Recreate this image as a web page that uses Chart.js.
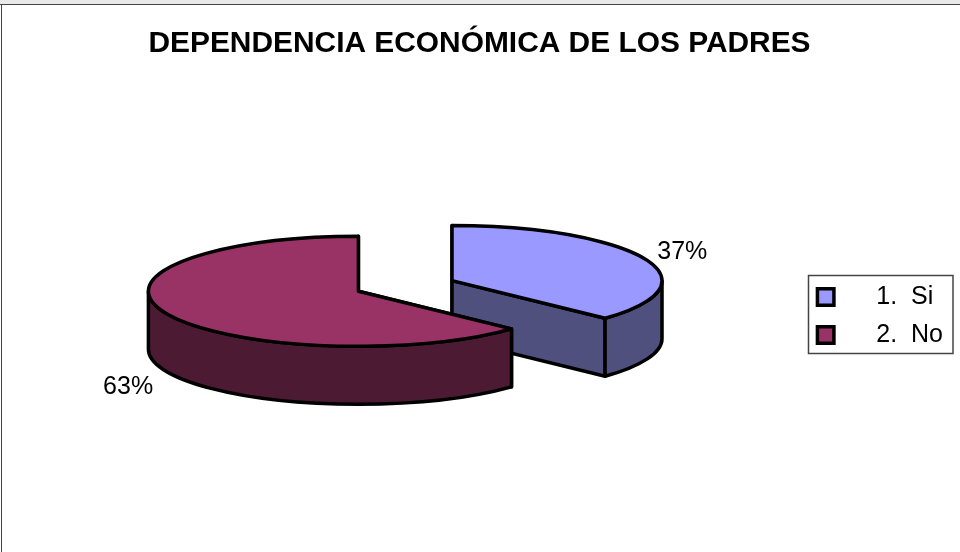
<!DOCTYPE html>
<html>
<head>
<meta charset="utf-8">
<title>Dependencia económica de los padres</title>
<script src="https://cdn.jsdelivr.net/npm/chart.js@4"></script>
<style>
    html, body { margin: 0; background: #fff; }
    canvas { display: block; }
</style>
</head>
<body>
<canvas id="pieChart" width="960" height="552"></canvas>
<script>
const chartTitle = 'DEPENDENCIA ECONÓMICA DE LOS PADRES';
const categories = ['1.  Si', '2.  No'];
const percentages = [37, 63];
const topColors = ['#9999ff', '#993366'];
const wallColors = ['#50507f', '#4d1a33'];

const fontFamily = '"Liberation Sans", Arial, sans-serif';
const tilt = 0.262;       // height of the ellipse against its width
const depth = 58;         // height of the pie wall
const explode = 51;       // how far each slice is pulled out
const outlineWidth = 3.5;
const labelNudge = [[-1, -2], [1, 12]];

// Pie drawn as a tilted, exploded disc with walls under each slice
class Pie3DController extends Chart.PieController {
    draw() {
        const ctx = this.chart.ctx;
        this._cachedMeta.data.forEach((arc, i) => {
            const mid = (arc.startAngle + arc.endAngle) / 2;
            const cx = arc.x + Math.cos(mid) * explode;
            const cy = arc.y + Math.sin(mid) * explode * tilt;
            const rx = arc.outerRadius;
            const ry = rx * tilt;

            ctx.save();
            ctx.lineWidth = outlineWidth;
            ctx.strokeStyle = '#000';
            ctx.lineJoin = 'round';
            ctx.fillStyle = wallColors[i];

            // cut faces first, the wall and top cover whatever is hidden
            [arc.startAngle, arc.endAngle].forEach(a => {
                const ex = cx + Math.cos(a) * rx;
                const ey = cy + Math.sin(a) * ry;
                ctx.beginPath();
                ctx.moveTo(cx, cy);
                ctx.lineTo(ex, ey);
                ctx.lineTo(ex, ey + depth);
                ctx.lineTo(cx, cy + depth);
                ctx.closePath();
                ctx.fill();
                ctx.stroke();
            });

            // outer wall, only the front half of the ellipse shows
            const from = Math.max(arc.startAngle, 0);
            const to = Math.min(arc.endAngle, Math.PI);
            if (to > from) {
                ctx.beginPath();
                ctx.ellipse(cx, cy, rx, ry, 0, from, to);
                ctx.ellipse(cx, cy + depth, rx, ry, 0, to, from, true);
                ctx.closePath();
                ctx.fill();
                ctx.stroke();
            }

            // top surface, squashed through the transform
            ctx.save();
            ctx.translate(cx, cy);
            ctx.scale(1, tilt);
            ctx.translate(-arc.x, -arc.y);
            arc.draw(ctx);
            ctx.restore();

            ctx.beginPath();
            ctx.moveTo(cx, cy);
            ctx.ellipse(cx, cy, rx, ry, 0, arc.startAngle, arc.endAngle);
            ctx.closePath();
            ctx.stroke();
            ctx.restore();
        });
    }
}
Pie3DController.id = 'pie3d';
Pie3DController.defaults = Chart.PieController.defaults;
Chart.register(Pie3DController);

const pageFrame = {
    id: 'pageFrame',
    beforeDraw(chart) {
        const ctx = chart.ctx;
        ctx.save();
        ctx.fillStyle = '#e9e9e9';
        ctx.fillRect(0, 0, chart.width, 4);
        ctx.fillStyle = '#444';
        ctx.fillRect(0, 4, chart.width, 1);
        ctx.fillRect(1, 4, 1, chart.height - 4);
        ctx.restore();
    }
};

// The legend sits lower than the middle of the plot and has a box round it
const legendFrame = {
    id: 'legendFrame',
    afterLayout(chart) {
        chart.legend.top += 65;
        chart.legend.bottom += 65;
    },
    afterDraw(chart) {
        const boxes = chart.legend.legendHitBoxes;
        const first = boxes[0];
        const last = boxes[boxes.length - 1];
        const ctx = chart.ctx;
        const top = first.top - 9;
        const bottom = last.top + last.height + 6;
        ctx.save();
        ctx.strokeStyle = '#444';
        ctx.lineWidth = 1.5;
        ctx.strokeRect(808.5, top, 144.5, bottom - top);
        ctx.restore();
    }
};

const sliceLabels = {
    id: 'sliceLabels',
    afterDatasetsDraw(chart) {
        const ctx = chart.ctx;
        ctx.save();
        ctx.font = '25px ' + fontFamily;
        ctx.fillStyle = '#000';
        ctx.textAlign = 'center';
        ctx.textBaseline = 'middle';
        chart.getDatasetMeta(0).data.forEach((arc, i) => {
            const mid = (arc.startAngle + arc.endAngle) / 2;
            const reach = explode + arc.outerRadius * 1.2;
            let y = arc.y + Math.sin(mid) * reach * tilt;
            if (Math.sin(mid) > 0) {
                y += depth;
            }
            const x = arc.x + Math.cos(mid) * reach;
            ctx.fillText(percentages[i] + '%', x + labelNudge[i][0], y + labelNudge[i][1]);
        });
        ctx.restore();
    }
};

new Chart(document.getElementById('pieChart').getContext('2d'), {
    type: 'pie3d',
    data: {
        labels: categories,
        datasets: [{
            data: percentages,
            backgroundColor: topColors,
            borderWidth: 0,
            clip: false
        }]
    },
    options: {
        responsive: false,
        animation: false,
        radius: 210,
        layout: { padding: { left: 6, right: 7, top: 0, bottom: 50 } },
        plugins: {
            tooltip: { enabled: false },
            title: {
                display: true,
                text: chartTitle,
                color: '#000',
                font: { family: fontFamily, size: 29.9, weight: 'bold' },
                padding: { top: 26, bottom: 8 }
            },
            legend: {
                display: true,
                position: 'right',
                onClick: null,
                labels: {
                    color: '#000',
                    font: { family: fontFamily, size: 25 },
                    boxWidth: 16.5,
                    boxHeight: 16.5,
                    padding: 13,
                    generateLabels: chart => chart.data.labels.map((text, i) => ({
                        text: '\u00a0\u00a0\u00a0\u00a0\u200a' + text,
                        fillStyle: topColors[i],
                        strokeStyle: '#000',
                        lineWidth: 3.5,
                        index: i
                    }))
                }
            }
        }
    },
    plugins: [pageFrame, legendFrame, sliceLabels]
});
</script>
</body>
</html>
